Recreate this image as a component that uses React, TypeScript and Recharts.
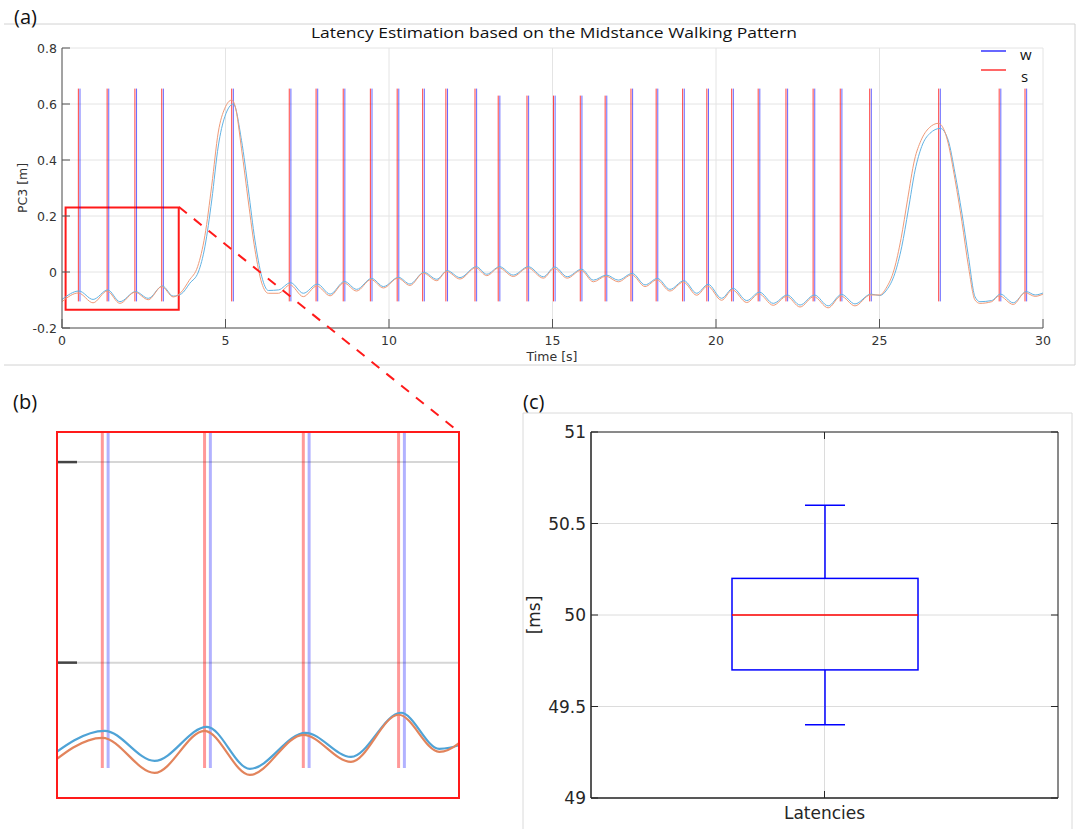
import React from 'react';
import {
  LineChart, Line, XAxis, YAxis, CartesianGrid, ReferenceLine, ReferenceArea,
  ComposedChart, Bar,
} from 'recharts';

// ---------------- data ----------------
// PC3 trace of "w" signal: [time s, value m]
const wTrace: [number, number][] = [
  [0.00,-0.098],[0.52,-0.068],[0.95,-0.098],[1.40,-0.064],[1.77,-0.106],[2.25,-0.070],[2.64,-0.094],[3.07,-0.050],
  [3.40,-0.086],[3.65,-0.078],[3.91,-0.040],[4.17,0.000],[4.37,0.090],[4.58,0.257],[4.78,0.450],[4.98,0.555],
  [5.24,0.600],[5.49,0.470],[5.70,0.293],[5.90,0.114],[6.11,-0.017],[6.31,-0.066],[6.62,-0.064],[6.99,-0.038],
  [7.38,-0.076],[7.81,-0.043],[8.20,-0.079],[8.64,-0.034],[9.01,-0.062],[9.47,-0.023],[9.83,-0.052],[10.29,-0.019],
  [10.64,-0.043],[11.07,-0.001],[11.46,-0.026],[11.78,0.005],[12.17,-0.020],[12.67,0.019],[12.99,-0.008],[13.38,0.019],
  [13.80,-0.011],[14.26,0.019],[14.72,-0.017],[15.07,0.018],[15.45,-0.017],[15.89,0.010],[16.25,-0.029],[16.65,-0.011],
  [17.01,-0.029],[17.44,-0.005],[17.83,-0.046],[18.21,-0.023],[18.59,-0.062],[19.02,-0.031],[19.41,-0.076],[19.76,-0.044],
  [20.17,-0.094],[20.52,-0.058],[20.94,-0.102],[21.33,-0.072],[21.75,-0.112],[22.18,-0.082],[22.57,-0.118],[23.01,-0.082],
  [23.43,-0.121],[23.84,-0.080],[24.25,-0.114],[24.74,-0.079],[25.01,-0.084],[25.22,-0.064],[25.47,-0.005],[25.68,0.090],
  [25.88,0.221],[26.09,0.364],[26.29,0.448],[26.54,0.495],[26.86,0.513],[27.10,0.471],[27.31,0.352],[27.52,0.210],
  [27.72,0.055],[27.92,-0.088],[28.07,-0.106],[28.43,-0.102],[28.70,-0.079],[29.09,-0.110],[29.49,-0.070],[29.76,-0.082],
  [30.00,-0.075],
];
// PC3 trace of "s" signal: [time s, value m]
const sTrace: [number, number][] = [
  [0.00,-0.106],[0.50,-0.075],[0.95,-0.110],[1.38,-0.068],[1.77,-0.112],[2.23,-0.072],[2.64,-0.099],[3.05,-0.052],
  [3.40,-0.089],[3.63,-0.074],[3.89,-0.030],[4.15,0.020],[4.37,0.130],[4.58,0.310],[4.78,0.500],[4.98,0.585],
  [5.19,0.614],[5.30,0.590],[5.49,0.440],[5.70,0.250],[5.90,0.080],[6.11,-0.040],[6.31,-0.076],[6.62,-0.076],
  [6.97,-0.046],[7.38,-0.088],[7.79,-0.050],[8.20,-0.085],[8.62,-0.039],[9.01,-0.068],[9.45,-0.027],[9.83,-0.057],
  [10.27,-0.022],[10.64,-0.048],[11.05,-0.004],[11.46,-0.031],[11.76,0.002],[12.17,-0.025],[12.65,0.015],[12.99,-0.013],
  [13.36,0.015],[13.80,-0.016],[14.24,0.015],[14.72,-0.022],[15.05,0.013],[15.45,-0.022],[15.87,0.006],[16.25,-0.035],
  [16.63,-0.015],[17.01,-0.035],[17.42,-0.010],[17.83,-0.052],[18.19,-0.028],[18.59,-0.068],[19.00,-0.036],[19.41,-0.083],
  [19.74,-0.050],[20.17,-0.101],[20.50,-0.064],[20.94,-0.109],[21.31,-0.078],[21.75,-0.119],[22.16,-0.087],[22.57,-0.125],
  [22.99,-0.088],[23.43,-0.128],[23.82,-0.086],[24.25,-0.121],[24.72,-0.082],[25.01,-0.082],[25.20,-0.058],[25.45,0.010],
  [25.66,0.120],[25.86,0.260],[26.07,0.400],[26.27,0.470],[26.52,0.515],[26.80,0.531],[27.00,0.500],[27.10,0.460],
  [27.31,0.330],[27.52,0.180],[27.72,0.020],[27.92,-0.100],[28.07,-0.112],[28.43,-0.106],[28.66,-0.085],[29.09,-0.116],
  [29.45,-0.074],[29.76,-0.087],[30.00,-0.079],
];
// detected midstance events (s)
const sEvents = [0.50,1.38,2.23,3.05,5.19,6.95,7.77,8.60,9.43,10.25,11.03,11.74,12.63,13.34,14.22,15.03,15.85,16.61,17.40,18.17,18.98,19.72,20.48,21.29,22.14,22.97,23.80,24.70,26.81,28.66,29.45];
const wEvents = [0.55,1.43,2.28,3.10,5.24,7.00,7.82,8.65,9.48,10.30,11.08,11.79,12.68,13.39,14.27,15.08,15.90,16.66,17.45,18.22,19.03,19.77,20.53,21.34,22.19,23.02,23.85,24.75,26.86,28.71,29.50];
const eventTops = [0.655,0.655,0.655,0.655,0.655,0.655,0.655,0.655,0.655,0.655,0.655,0.655,0.655,0.63,0.63,0.63,0.63,0.63,0.655,0.655,0.655,0.655,0.655,0.655,0.655,0.655,0.655,0.655,0.655,0.655,0.655];
const eventBottom = -0.105;

const xTicksA = [0, 5, 10, 15, 20, 25, 30];
const yTicksA = [-0.2, 0, 0.2, 0.4, 0.6, 0.8];
const zoomT: [number, number] = [0.11, 3.57];
const zoomV: [number, number] = [-0.135, 0.23];
const yTicksB = [0, 0.2];

const latencyNames = ['Latencies'];
const latencyMin = [49.4];
const latencyQ1 = [49.7];
const latencyMedian = [50.0];
const latencyQ3 = [50.2];
const latencyMax = [50.6];
const yTicksC = [49, 49.5, 50, 50.5, 51];

const wData = wTrace.map(([t, v]) => ({ t, v }));
const sData = sTrace.map(([t, v]) => ({ t, v }));
const latData = latencyNames.map((name, i) => ({
  name, range: [latencyQ1[i], latencyQ3[i]], min: latencyMin[i], q1: latencyQ1[i],
  median: latencyMedian[i], q3: latencyQ3[i], max: latencyMax[i],
}));

// ---------------- layout ----------------
const W = 1082, H = 829;
const A = { left: 62, right: 1043, top: 48, bottom: 328, h: 370 };
const B = { left: 57, right: 459, top: 432, bottom: 798 };
const C = { left: 591, right: 1058, top: 432, bottom: 798, ox: 500, oy: 400, w: 582, h: 429 };
const MAT = '"DejaVu Sans", sans-serif';
const CAL = '"Open Sans", sans-serif';
const BLUE = '#0000ff', RED = '#ff0000';

const XTickA = (p: any) => (
  <g>
    <line x1={p.x} x2={p.x} y1={p.y} y2={p.y - 9} stroke="#555" />
    <text x={p.x} y={p.y + 12} textAnchor="middle" dominantBaseline="central" fontFamily={MAT} fontSize={12.5} fill="#333">{p.payload.value}</text>
  </g>
);
const YTickA = (p: any) => (
  <g>
    <line x1={p.x} x2={p.x + 8} y1={p.y} y2={p.y} stroke="#555" />
    <text x={p.x - 5} y={p.y} textAnchor="end" dominantBaseline="central" fontFamily={MAT} fontSize={12.5} fill="#333">{p.payload.value}</text>
  </g>
);
const YTickB = (p: any) => (
  <line x1={p.x} x2={p.x + 20} y1={p.y} y2={p.y} stroke="#444" strokeWidth={2.5} />
);
const YTickCL = (p: any) => (
  <g>
    <line x1={p.x} x2={p.x + 7} y1={p.y} y2={p.y} stroke="#262626" />
    <text x={p.x - 5} y={p.y} textAnchor="end" dominantBaseline="central" fontFamily={MAT} fontSize={17} fill="#262626">{p.payload.value}</text>
  </g>
);
const YTickCR = (p: any) => <line x1={p.x} x2={p.x - 7} y1={p.y} y2={p.y} stroke="#262626" />;
const XTickCB = (p: any) => (
  <g>
    <line x1={p.x} x2={p.x} y1={p.y} y2={p.y - 7} stroke="#262626" />
    <text x={p.x} y={p.y + 15} textAnchor="middle" dominantBaseline="central" fontFamily={MAT} fontSize={17} fill="#262626">{p.payload.value}</text>
  </g>
);
const XTickCT = (p: any) => <line x1={p.x} x2={p.x} y1={p.y} y2={p.y + 7} stroke="#262626" />;

const BoxShape = (p: any) => {
  const { x, y, width, height, payload } = p;
  const top = Math.min(y, y + height);
  const h = Math.abs(height);
  const k = h / (payload.q3 - payload.q1);
  const yOf = (v: number) => top + (payload.q3 - v) * k;
  const cx = x + width / 2;
  const cap = 20;
  return (
    <g fill="none">
      <line x1={cx} x2={cx} y1={yOf(payload.q3)} y2={yOf(payload.max)} stroke={BLUE} strokeWidth={1.5} />
      <line x1={cx - cap} x2={cx + cap} y1={yOf(payload.max)} y2={yOf(payload.max)} stroke={BLUE} strokeWidth={1.5} />
      <line x1={cx} x2={cx} y1={yOf(payload.q1)} y2={yOf(payload.min)} stroke={BLUE} strokeWidth={1.5} />
      <line x1={cx - cap} x2={cx + cap} y1={yOf(payload.min)} y2={yOf(payload.min)} stroke={BLUE} strokeWidth={1.5} />
      <rect x={x} y={top} width={width} height={h} stroke={BLUE} strokeWidth={1.5} fill="none" />
      <line x1={x} x2={x + width} y1={yOf(payload.median)} y2={yOf(payload.median)} stroke={RED} strokeWidth={1.5} />
    </g>
  );
};

function eventLines(width: number, sOp: number, wOp: number, hidden: boolean) {
  const out: any[] = [];
  sEvents.forEach((t, i) => out.push(
    <ReferenceLine key={'s' + i} segment={[{ x: t, y: eventBottom }, { x: t, y: eventTops[i] }]}
      stroke={RED} strokeWidth={width} strokeOpacity={sOp} ifOverflow={hidden ? 'hidden' : 'extendDomain'} />));
  wEvents.forEach((t, i) => out.push(
    <ReferenceLine key={'w' + i} segment={[{ x: t, y: eventBottom }, { x: t, y: eventTops[i] }]}
      stroke={BLUE} strokeWidth={width} strokeOpacity={wOp} ifOverflow={hidden ? 'hidden' : 'extendDomain'} />));
  return out;
}

function PanelA() {
  return (
    <div style={{ position: 'absolute', left: 0, top: 0 }}>
      <LineChart width={W} height={A.h} margin={{ top: A.top, right: W - A.right, left: 0, bottom: A.h - A.bottom - 30 }}>
        <CartesianGrid stroke="#e4e4e4" />
        <XAxis type="number" dataKey="t" domain={[0, 30]} ticks={xTicksA} interval={0} height={30}
          axisLine={{ stroke: '#555' }} tickLine={false} tickSize={0} tickMargin={0} tick={XTickA} allowDataOverflow />
        <YAxis type="number" domain={[-0.2, 0.8]} ticks={yTicksA} interval={0} width={A.left}
          axisLine={{ stroke: '#555' }} tickLine={false} tickSize={0} tickMargin={0} tick={YTickA} allowDataOverflow />
        {eventLines(1, 0.75, 0.6, false)}
        <Line data={wData} dataKey="v" type="monotone" stroke="#62b3e4" strokeWidth={1} dot={false} isAnimationActive={false} />
        <Line data={sData} dataKey="v" type="monotone" stroke="#ef9a78" strokeWidth={1} dot={false} isAnimationActive={false} />
        <ReferenceArea x1={zoomT[0]} x2={zoomT[1]} y1={zoomV[0]} y2={zoomV[1]} fill="none" fillOpacity={0}
          stroke="#ff1a1a" strokeWidth={2} strokeOpacity={1} ifOverflow="visible" />
      </LineChart>
    </div>
  );
}

function PanelB() {
  return (
    <div style={{ position: 'absolute', left: B.left - 1, top: B.top }}>
      <LineChart width={B.right - B.left + 1} height={B.bottom - B.top} margin={{ top: 0, right: 0, left: 0, bottom: 0 }}>
        <CartesianGrid stroke="#d6d6d6" strokeWidth={2} vertical={false} />
        <XAxis type="number" dataKey="t" domain={zoomT} allowDataOverflow hide />
        <YAxis type="number" domain={zoomV} ticks={yTicksB} interval={0} width={1} allowDataOverflow
          axisLine={false} tickLine={false} tickSize={0} tickMargin={0} tick={YTickB} />
        {eventLines(3, 0.4, 0.3, true)}
        <Line data={wData} dataKey="v" type="monotone" stroke="#4fa3d6" strokeWidth={2.2} dot={false} isAnimationActive={false} />
        <Line data={sData} dataKey="v" type="monotone" stroke="#e2845c" strokeWidth={2.2} dot={false} isAnimationActive={false} />
      </LineChart>
    </div>
  );
}

function PanelC() {
  return (
    <div style={{ position: 'absolute', left: C.ox, top: C.oy }}>
      <ComposedChart width={C.w} height={C.h} data={latData}
        margin={{ top: C.top - C.oy - 1, right: C.ox + C.w - C.right - 1, left: 0, bottom: 0 }}>
        <CartesianGrid stroke="#dcdcdc" />
        <XAxis dataKey="name" height={C.oy + C.h - C.bottom} interval={0}
          axisLine={{ stroke: '#262626' }} tickLine={false} tickSize={0} tickMargin={0} tick={XTickCB} />
        <XAxis xAxisId="top" orientation="top" dataKey="name" height={1} interval={0}
          axisLine={false} tickLine={false} tickSize={0} tickMargin={0} tick={XTickCT} />
        <YAxis type="number" domain={[49, 51]} ticks={yTicksC} interval={0} width={C.left - C.ox}
          axisLine={{ stroke: '#262626' }} tickLine={false} tickSize={0} tickMargin={0} tick={YTickCL} allowDataOverflow />
        <YAxis yAxisId="right" orientation="right" type="number" domain={[49, 51]} ticks={yTicksC} interval={0} width={1}
          axisLine={false} tickLine={false} tickSize={0} tickMargin={0} tick={YTickCR} allowDataOverflow />
        <ReferenceArea y1={49} y2={51} fill="none" fillOpacity={0} stroke="#262626" strokeWidth={1} ifOverflow="visible" />
        <Bar dataKey="range" barSize={186} shape={BoxShape} isAnimationActive={false} />
      </ComposedChart>
    </div>
  );
}

function Overlay() {
  return (
    <svg width={W} height={H} style={{ position: 'absolute', left: 0, top: 0, pointerEvents: 'none' }}>
      {/* panel frames */}
      <path d="M4 24 H1075 V365 H4" fill="none" stroke="#d2d2d2" strokeWidth={1} />
      <path d="M523 829 V413 H1072 V829" fill="none" stroke="#dadada" strokeWidth={1} />
      {/* panel letters */}
      <text x={14} y={24} fontFamily={CAL} fontSize={20} fill="#111">(a)</text>
      <text x={13} y={409} fontFamily={CAL} fontSize={20} fill="#111">(b)</text>
      <text x={523} y={409} fontFamily={CAL} fontSize={20} fill="#111">(c)</text>
      {/* title */}
      <text x={554} y={38} textAnchor="middle" fontFamily={CAL} fontSize={14.5} fill="#111"
        textLength={486} lengthAdjust="spacingAndGlyphs">Latency Estimation based on the Midstance Walking Pattern</text>
      {/* legend */}
      <line x1={981} x2={1006} y1={51} y2={51} stroke={BLUE} strokeWidth={1.2} />
      <text x={1020} y={60} fontFamily={CAL} fontSize={15} fill="#111">w</text>
      <line x1={981} x2={1006} y1={70} y2={70} stroke={RED} strokeWidth={1.2} />
      <text x={1021} y={82} fontFamily={CAL} fontSize={15} fill="#111">s</text>
      {/* axis labels */}
      <text x={552} y={356} textAnchor="middle" dominantBaseline="central" fontFamily={MAT} fontSize={12.5} fill="#333">Time [s]</text>
      <text transform={`translate(22 ${(A.top + A.bottom) / 2}) rotate(-90)`} textAnchor="middle" dominantBaseline="central"
        fontFamily={MAT} fontSize={12.5} fill="#333">PC3 [m]</text>
      <text transform={`translate(534 ${(C.top + C.bottom) / 2}) rotate(-90)`} textAnchor="middle" dominantBaseline="central"
        fontFamily={MAT} fontSize={17} fill="#262626">[ms]</text>
      {/* zoom connector + zoom frame */}
      <line x1={179} y1={207} x2={459} y2={432} stroke="#ff1a1a" strokeWidth={2} strokeDasharray="10 9" />
      <rect x={B.left} y={B.top} width={B.right - B.left} height={B.bottom - B.top} fill="none" stroke="#ff1a1a" strokeWidth={2} />
    </svg>
  );
}

export default function App() {
  return (
    <div style={{ position: 'absolute', left: 0, top: 0, width: W, height: H, background: '#fff', overflow: 'hidden' }}>
      <PanelA />
      <PanelB />
      <PanelC />
      <Overlay />
    </div>
  );
}
